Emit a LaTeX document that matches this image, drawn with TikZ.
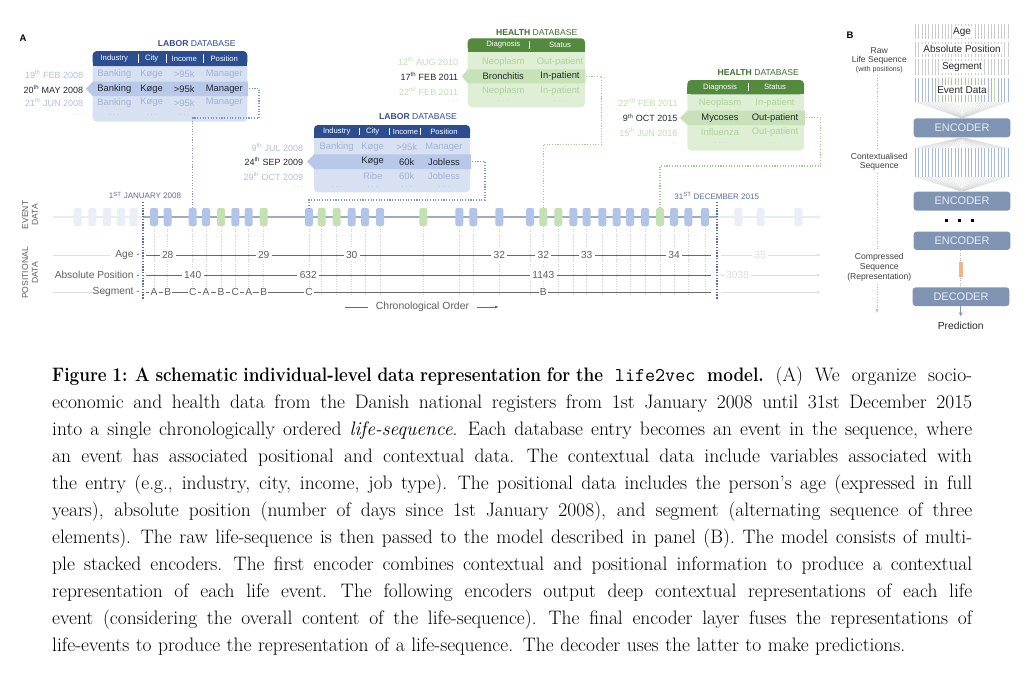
\documentclass[tikz,border=0pt]{standalone}
\usepackage{fontspec}
\usepackage{graphicx}
\newfontfamily\dsans{Liberation Sans}
\usetikzlibrary{arrows.meta}
\definecolor{lhead}{RGB}{44,78,145}
\definecolor{lbody}{RGB}{216,225,242}
\definecolor{lhl}{RGB}{184,200,232}
\definecolor{lfaint}{RGB}{160,178,214}
\definecolor{ldate}{RGB}{178,190,220}
\definecolor{ltitle}{RGB}{48,78,148}
\definecolor{hhead}{RGB}{84,138,62}
\definecolor{hbody}{RGB}{223,239,214}
\definecolor{hhl}{RGB}{198,226,182}
\definecolor{hfaint}{RGB}{172,212,152}
\definecolor{hdate}{RGB}{192,222,178}
\definecolor{htitle}{RGB}{62,112,45}
\definecolor{dtext}{RGB}{35,38,50}
\definecolor{evblue}{RGB}{178,197,232}
\definecolor{evgreen}{RGB}{197,225,180}
\definecolor{evfaint}{RGB}{234,239,247}
\definecolor{rowline}{RGB}{160,170,192}
\definecolor{rowfaint}{RGB}{232,236,243}
\definecolor{posline}{RGB}{105,105,105}
\definecolor{postext}{RGB}{95,95,95}
\definecolor{posfaint}{RGB}{222,222,222}
\definecolor{vlight}{RGB}{212,212,212}
\definecolor{datec}{RGB}{88,108,158}
\definecolor{ldotc}{RGB}{125,150,205}
\definecolor{hdotc}{RGB}{160,205,140}
\definecolor{encc}{RGB}{127,147,178}
\definecolor{enct}{RGB}{232,237,246}
\definecolor{orangec}{RGB}{243,180,140}
\definecolor{stripeg}{RGB}{205,205,205}
\definecolor{stripeb}{RGB}{165,185,225}
\definecolor{stripegr}{RGB}{185,220,165}
\definecolor{fanc}{RGB}{212,212,212}
\newcommand\myfs[1]{\dsans\fontsize{#1}{#1}\selectfont}
\newcommand\capline[1]{\hbox to 920pt{\spaceskip=0.333em plus 1em minus 0.12em\relax\xspaceskip=0.45em plus 1em minus 0.12em\relax #1}}
\begin{document}
\begin{tikzpicture}[x=1pt,y=-1pt,font=\dsans,
  evb/.style={fill=evblue,rounded corners=2pt,minimum width=8pt,minimum height=18pt,inner sep=0pt},
  evg/.style={evb,fill=evgreen},
  evf/.style={evb,fill=evfaint},
  hd/.style={text=white,font=\myfs{7.7},inner sep=0pt},
  cell/.style={font=\myfs{9.4},inner sep=0pt},
  dots/.style={font=\myfs{6.5},inner sep=0pt},
  dt/.style={font=\myfs{9},inner sep=0pt,anchor=east},
  ttl/.style={font=\myfs{8.6},inner sep=0pt},
  ldots/.style={draw=ldotc,line width=1.1pt,dash pattern=on 1.1pt off 1.6pt},
  hdots/.style={draw=hdotc,line width=1.1pt,dash pattern=on 1.1pt off 1.6pt},
  pl/.style={posline,line width=0.8pt},
  pf/.style={posfaint,line width=0.8pt},
  num/.style={fill=white,inner sep=2.5pt,font=\myfs{10.2},text=postext},
  seg/.style={fill=white,inner sep=1.2pt,font=\myfs{10.2},text=postext},
  plab/.style={anchor=east,inner sep=0pt,font=\myfs{10.2},text=postext},
  enc/.style={fill=encc,rounded corners=3pt,text=enct,minimum width=96.7pt,inner sep=0pt,font=\myfs{11}},
  blab/.style={fill=white,inner sep=1.5pt,font=\myfs{10},text=black!85},
  side/.style={font=\myfs{8.6},text=black!75,inner sep=0pt},
  fan/.style={fanc,line width=0.3pt}]
\useasboundingbox (0,0) rectangle (1030,678);
\node[font=\myfs{9.5}\bfseries,inner sep=0pt] (lblA) at (23,38) {A};

% ---------- event row ----------
\draw[rowfaint,line width=1.3pt] (53,217) -- (143,217);
\draw[rowline,line width=1.3pt] (143,217) -- (717,217);
\draw[rowfaint,line width=1.3pt,-{Latex[length=5pt,width=4pt]}] (717,217) -- (822,217);
\foreach \x in {77.7,92.3,107,121,133.7} \node[evf] at (\x,217) {};
\foreach \x in {738.3,760.7,798.3} \node[evf] at (\x,217) {};
\foreach \x/\s [count=\i] in {154/evb,167.7/evb,192.7/evb,206/evb,221/evg,235.3/evb,248.7/evb,263.7/evg,309/evb,321.7/evg,336.7/evg,351.7/evb,365/evb,380/evb,423.3/evg,459.3/evb,473.3/evb,499.3/evb,530/evb,543.3/evg,558.3/evg,573.3/evb,586.7/evb,602.3/evb,616.7/evb,630/evb,645/evb,660/evg,674/evb,688.3/evb,705/evb}
  \node[\s] (e\i) at (\x,217) {};
\foreach \i in {1,...,31} \draw[vlight,dotted,line width=0.5pt] (e\i.south) -- ++(0,70);

\node[rotate=90,align=center,font=\dsans\fontsize{8.6}{9.8}\selectfont,text=postext] (evlab) at (30,215) {EVENT\\DATA};
\node[rotate=90,align=center,font=\dsans\fontsize{8.6}{9.8}\selectfont,text=postext] (poslab) at (30,273) {POSITIONAL\\DATA};

\node[font=\myfs{8},text=datec,inner sep=0pt] (d1) at (145,195.5) {1\textsuperscript{ST} JANUARY 2008};
\node[font=\myfs{8},text=datec,inner sep=0pt] (d2) at (716.7,196) {31\textsuperscript{ST} DECEMBER 2015};
\draw[datec,line width=1.4pt,dash pattern=on 1.4pt off 1.4pt] (143,202) -- (143,300);
\draw[datec,line width=1.4pt,dash pattern=on 1.4pt off 1.4pt] (717,202) -- (717,300);

% ---------- positional rows ----------
\draw[pf] (53,255) -- (110,255);
\draw[pf] (53,292) -- (110,292);
\node[plab] (agel) at (140,255) {Age -};
\node[plab] (absl) at (140,275) {Absolute Position -};
\node[plab] (segl) at (140,292) {Segment -};
\draw[pl] (146,255) -- (711,255);
\draw[pl] (146,275) -- (711,275);
\draw[pl] (146,292) -- (711,292);
\foreach \x/\t in {167.7/28,263.7/29,351.7/30,499.3/32,543.3/32,586.7/33,674/34} \node[num] at (\x,255) {\t};
\foreach \x/\t in {192.7/140,308.3/632,543.3/1143} \node[num] at (\x,275) {\t};
\foreach \x/\t in {154/A,167.7/B,192.7/C,206/A,221/B,235.3/C,248.7/A,263.7/B,309/C,543.3/B} \node[seg] at (\x,292) {\t};
\draw[pf,-{Latex[length=4pt,width=3pt]}] (721,255) -- (821,255);
\draw[pf,-{Latex[length=4pt,width=3pt]}] (721,275) -- (821,275);
\draw[pf,-{Latex[length=4pt,width=3pt]}] (721,292) -- (821,292);
\node[num,text=posfaint] at (760,255) {35};
\node[num,text=posfaint] at (737.5,275) {3038};
\coordinate (co1) at (345,307);
\coordinate (co2) at (368,307);
\node[font=\myfs{10.4},text=postext,inner sep=0pt] (chron) at (422.5,307) {Chronological Order};
\coordinate (co3) at (477,307);
\coordinate (co4) at (499,307);
\draw[pl] (co1) -- (co2);
\draw[pl,-{Latex[length=4pt,width=3pt]}] (co3) -- (co4);

% ---------- LABOR 1 ----------
\node[ttl] (lt1) at (196.7,43.3) {\textcolor{ltitle}{\textbf{LABOR} DATABASE}};
\fill[lbody,rounded corners=4pt] (92.7,51) rectangle (247.3,121.7);
\fill[lhl] (92.7,81.7) -- (248,81.7) -- (248,96) -- (92.7,96) -- (86,88.85) -- cycle;
\fill[lhead,rounded corners=4pt] (92.7,51) rectangle (247.3,66);
\fill[lhead] (92.7,60) rectangle (247.3,66);
\foreach \x in {137.7,165.7,203.3} \draw[white,line width=0.4pt] (\x,54) -- (\x,63);
\foreach \x/\t in {114.3/Industry,151.7/City,184.3/Income,224.3/Position} \node[hd] at (\x,58.5) {\t};
\foreach \x/\t in {114.3/Banking,151.7/Køge,184.3/>95k,224.3/Manager} {
  \node[cell,text=lfaint] at (\x,74) {\t};
  \node[cell,text=dtext] at (\x,89) {\t};
  \node[cell,text=lfaint] at (\x,102.7) {\t};
  \node[dots,text=lfaint] at (\x,115) {. . .};}
\node[dt,text=ldate] at (83.3,74) {19\textsuperscript{th} FEB 2008};
\node[dt,text=dtext] (l1d) at (83.3,89) {20\textsuperscript{th} MAY 2008};
\node[dt,text=ldate] at (83.3,102.7) {21\textsuperscript{th} JUN 2008};
\node[dots,anchor=east,text=ldate] at (83.3,115) {. . .};
\coordinate (l1r) at (249,88.85);
\draw[ldots] (l1r) -- (259,88.85) -- (259,118) -| (e3.north);

% ---------- LABOR 2 ----------
\node[ttl] (lt2) at (418,116.5) {\textcolor{ltitle}{\textbf{LABOR} DATABASE}};
\fill[lbody,rounded corners=4pt] (314,125) rectangle (470,192.3);
\fill[lhl] (314,154.3) -- (471,154.3) -- (471,169) -- (314,169) -- (307,161.65) -- cycle;
\fill[lhead,rounded corners=4pt] (314,125) rectangle (470,137.7);
\fill[lhead] (314,132) rectangle (470,137.7);
\foreach \x in {359.3,389.3,420} \draw[white,line width=0.4pt] (\x,127.5) -- (\x,135.3);
\foreach \x/\t in {336.7/Industry,372.7/City,405.5/Income,444/Position} \node[hd] at (\x,131.4) {\t};
\foreach \x/\t in {336.7/Banking,372.7/Køge,406.7/>95k,444/Manager} \node[cell,text=lfaint] at (\x,147.3) {\t};
\foreach \x/\t in {372.7/Køge,406.7/60k,444/Jobless} \node[cell,text=dtext] at (\x,161.7) {\t};
\foreach \x/\t in {372.7/Ribe,406.7/60k,444/Jobless} \node[cell,text=lfaint] at (\x,176.5) {\t};
\foreach \x in {336.7,372.7,406.7,444} \node[dots,text=lfaint] at (\x,187) {. . .};
\node[dt,text=ldate] at (303.3,147.3) {9\textsuperscript{th} JUL 2008};
\node[dt,text=dtext] (l2d) at (303.3,161.7) {24\textsuperscript{th} SEP 2009};
\node[dt,text=ldate] at (303.3,176.5) {29\textsuperscript{th} OCT 2009};
\node[dots,anchor=east,text=ldate] at (303.3,187) {. . .};
\coordinate (l2r) at (472,161.65);
\draw[ldots] (l2r) -- (485,161.65) -- (485,200) -| (e9.north);

% ---------- HEALTH 1 ----------
\node[ttl] (ht1) at (536.7,32.5) {\textcolor{htitle}{\textbf{HEALTH} DATABASE}};
\fill[hbody,rounded corners=4pt] (467.7,38.3) rectangle (585,107.3);
\fill[hhl] (467.7,69.3) -- (585,69.3) -- (585,83.3) -- (467.7,83.3) -- (461.7,76.3) -- cycle;
\fill[hhead,rounded corners=4pt] (467.7,38.3) rectangle (585,51.7);
\fill[hhead] (467.7,45) rectangle (585,51.7);
\draw[white,line width=0.4pt] (529,41) -- (529,49);
\node[hd] at (503.3,45) {Diagnosis};
\node[hd] at (560,45) {Status};
\node[cell,text=hfaint] at (503.3,61.7) {Neoplasm};
\node[cell,text=hfaint] at (560,61.7) {Out-patient};
\node[cell,text=dtext] at (503.3,76.3) {Bronchitis};
\node[cell,text=dtext] at (560,76.3) {In-patient};
\node[cell,text=hfaint] at (503.3,91) {Neoplasm};
\node[cell,text=hfaint] at (560,91) {In-patient};
\node[dots,text=hfaint] at (503.3,101.5) {. . .};
\node[dots,text=hfaint] at (560,101.5) {. . .};
\node[dt,text=hdate] at (458.3,61.7) {12\textsuperscript{th} AUG 2010};
\node[dt,text=dtext] (h1d) at (458.3,76.3) {17\textsuperscript{th} FEB 2011};
\node[dt,text=hdate] at (458.3,91) {22\textsuperscript{nd} FEB 2011};
\node[dots,anchor=east,text=hdate] at (458.3,101.5) {. . .};
\coordinate (h1r) at (586,76.3);
\draw[hdots] (h1r) -- (601.7,76.3) -- (601.7,144.3) -| (e20.north);

% ---------- HEALTH 2 ----------
\node[ttl] (ht2) at (758.3,73) {\textcolor{htitle}{\textbf{HEALTH} DATABASE}};
\fill[hbody,rounded corners=4pt] (687.3,80) rectangle (804,150.7);
\fill[hhl] (687.3,110.7) -- (805,110.7) -- (805,125) -- (687.3,125) -- (680,117.85) -- cycle;
\fill[hhead,rounded corners=4pt] (687.3,80) rectangle (804,94.3);
\fill[hhead] (687.3,87) rectangle (804,94.3);
\draw[white,line width=0.4pt] (747.7,83) -- (747.7,91.3);
\node[hd] at (720,87.2) {Diagnosis};
\node[hd] at (775,87.2) {Status};
\node[cell,text=hfaint] at (720,102.7) {Neoplasm};
\node[cell,text=hfaint] at (775,102.7) {In-patient};
\node[cell,text=dtext] at (720,117.8) {Mycoses};
\node[cell,text=dtext] at (775,117.8) {Out-patient};
\node[cell,text=hfaint] at (720,132.3) {Influenza};
\node[cell,text=hfaint] at (775,132.3) {Out-patient};
\node[dots,text=hfaint] at (720,143.5) {. . .};
\node[dots,text=hfaint] at (775,143.5) {. . .};
\node[dt,text=hdate] at (677.7,102.7) {22\textsuperscript{nd} FEB 2011};
\node[dt,text=dtext] (h2d) at (677.7,117.8) {9\textsuperscript{th} OCT 2015};
\node[dt,text=hdate] at (677.7,132.3) {15\textsuperscript{th} JUN 2016};
\node[dots,anchor=east,text=hdate] at (677.7,143.5) {. . .};
\coordinate (h2r) at (806,117.85);
\draw[hdots] (h2r) -- (820.7,117.85) -- (820.7,166) -| (e28.north);

% ---------- PANEL B ----------
\node[font=\myfs{9.5}\bfseries,inner sep=0pt] (lblB) at (850,35) {B};
\foreach \k in {0,...,28} {
  \draw[stripeg,line width=0.8pt] (915.5+3.3*\k,24) -- (915.5+3.3*\k,39.3);
  \draw[stripeg,line width=0.8pt] (915.5+3.3*\k,41.7) -- (915.5+3.3*\k,56.7);
  \draw[stripeg,line width=0.8pt] (915.5+3.3*\k,59.3) -- (915.5+3.3*\k,75);
  \draw[stripeb,line width=0.8pt] (915.5+3.3*\k,78.3) -- (915.5+3.3*\k,101.7);
  \draw[stripeb,line width=0.8pt] (915.5+3.3*\k,148.3) -- (915.5+3.3*\k,176.7);
}
\foreach \k in {3,7,10,13,16,19,24} \draw[stripegr,line width=0.8pt] (915.5+3.3*\k,78.3) -- (915.5+3.3*\k,101.7);
\node[blab] (bage) at (962,31.7) {Age};
\node[blab] (babs) at (962,49.2) {Absolute Position};
\node[blab] (bseg) at (962,67.2) {Segment};
\node[blab] (bev) at (962,90) {Event Data};
\node[enc,minimum height=19pt] (enc1) at (962,127.8) {ENCODER};
\node[enc,minimum height=19pt] (enc2) at (962,201.2) {ENCODER};
\node[enc,minimum height=18.3pt] (enc3) at (962,240.8) {ENCODER};
\node[enc,minimum height=18.7pt] (dec) at (961,296.7) {DECODER};
\foreach \k in {0,...,28} {
  \draw[fan] (915.5+3.3*\k,101.7) -- (enc1.north);
  \draw[fan] (enc1.south) -- (915.5+3.3*\k,148.3);
  \draw[fan] (915.5+3.3*\k,176.7) -- (enc2.north);
}
\foreach \x in {946.7,959.5,972.3} \fill[black] (\x-1.6,219.1) rectangle (\x+1.6,222.3);
\node[fill=orangec,minimum width=4pt,minimum height=15.6pt,inner sep=0pt] (rep) at (960.7,269.5) {};
\draw[gray!60,dotted,line width=0.5pt] (enc3.south -| rep) -- (rep.north);
\draw[gray!60,dotted,line width=0.5pt] (rep.south) -- (dec.north -| rep);
\node[font=\myfs{10.3},text=black!85,inner sep=0pt] (pred) at (960.7,325.7) {Prediction};
\draw[encc,line width=1pt,-{Latex[length=4pt,width=4pt]}] (dec.south -| pred) -- (960.7,316.5);

\node[side] (s1) at (879.3,51) {Raw};
\node[side] (s2) at (879.3,60) {Life Sequence};
\node[font=\myfs{7},text=black!75,inner sep=0pt] (s3) at (879.3,69.3) {(with positions)};
\node[side] (s4) at (879.3,156.7) {Contextualised};
\node[side] (s5) at (879.3,166.7) {Sequence};
\node[side] (s6) at (879.3,257.3) {Compressed};
\node[side] (s7) at (879.3,267.7) {Sequence};
\node[side] (s8) at (879.3,277.7) {(Representation)};
\draw[gray!50,dotted,line width=0.6pt] (877,75) -- (877,149);
\draw[gray!50,dotted,line width=0.6pt] (877,173) -- (877,250);
\draw[gray!50,dotted,line width=0.6pt,-{Latex[length=4pt,width=3.5pt]}] (877,284) -- (877,313);

% ---------- caption ----------
\node[anchor=north west,inner sep=0pt,text width=920pt,font=\rmfamily\fontsize{19.5}{27}\selectfont] (cap) at (52,366.5) {%
\capline{\scalebox{0.88}[1]{\textbf{Figure 1: A schematic individual-level data representation for the}} \texttt{life2vec} \scalebox{0.88}[1]{\textbf{model.}} (A) We organize socio-}
\capline{economic and health data from the Danish national registers from 1st January 2008 until 31st December 2015}
\capline{into a single chronologically ordered \emph{life-sequence}. Each database entry becomes an event in the sequence, where}
\capline{an event has associated positional and contextual data. The contextual data include variables associated with}
\capline{the entry (e.g., industry, city, income, job type). The positional data includes the person's age (expressed in full}
\capline{years), absolute position (number of days since 1st January 2008), and segment (alternating sequence of three}
\capline{elements). The raw life-sequence is then passed to the model described in panel (B). The model consists of multi-}
\capline{ple stacked encoders. The first encoder combines contextual and positional information to produce a contextual}
\capline{representation of each life event. The following encoders output deep contextual representations of each life}
\capline{event (considering the overall content of the life-sequence). The final encoder layer fuses the representations of}
\hbox{life-events to produce the representation of a life-sequence. The decoder uses the latter to make predictions.}};
\end{tikzpicture}
\end{document}
